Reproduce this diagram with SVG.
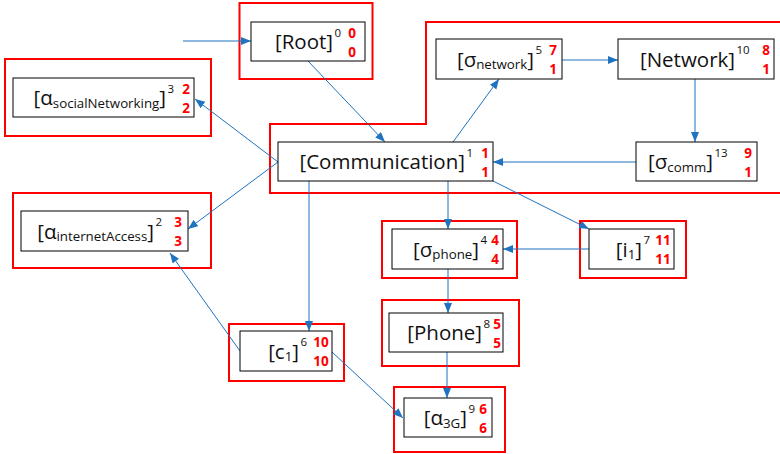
<svg xmlns="http://www.w3.org/2000/svg" width="780" height="454" viewBox="0 0 780 454">
<defs>
<marker id="ah" markerUnits="userSpaceOnUse" markerWidth="11" markerHeight="9" refX="10" refY="4" orient="auto"><path d="M0,0 L10,4 L0,8 z" fill="#1F73BF"/></marker>
<style>
.grp{fill:none;stroke:#FF0000;stroke-width:2}
.box{fill:#FFFFFF;stroke:#000000;stroke-width:1}
.lbl{font-family:"Open Sans","Noto Sans",sans-serif;font-size:20.5px;fill:#111111;text-anchor:end}
.sub{font-size:13.3px}
.sup{font-family:"Open Sans","Noto Sans",sans-serif;font-size:11.5px;fill:#111111}
.num{font-family:"Open Sans","Liberation Sans",sans-serif;font-size:13.5px;font-weight:bold;fill:#FF0000;text-anchor:middle}
.con{fill:none;stroke:#1F73BF;stroke-width:1;marker-end:url(#ah)}
</style>
</defs>
<rect width="780" height="454" fill="#FFFFFF"/>
<g id="groups">
<rect class="grp" x="239.5" y="3" width="133" height="76"/>
<rect class="grp" x="5" y="59" width="206" height="77"/>
<polygon class="grp" points="270,124 426,124 426,22 782,22 782,193 270,193"/>
<rect class="grp" x="13" y="193" width="198" height="75"/>
<rect class="grp" x="382" y="221" width="135" height="57"/>
<rect class="grp" x="580" y="221" width="106" height="57"/>
<rect class="grp" x="229" y="324" width="115" height="57"/>
<rect class="grp" x="382" y="300" width="137" height="66"/>
<rect class="grp" x="394" y="387" width="111" height="65"/>
</g>
<g id="connectors">
<line class="con" x1="183" y1="41" x2="251" y2="41"/>
<line class="con" x1="308" y1="61" x2="385" y2="142"/>
<line class="con" x1="453" y1="142" x2="499" y2="79"/>
<line class="con" x1="562" y1="60" x2="618" y2="60"/>
<line class="con" x1="695" y1="79" x2="695" y2="142"/>
<line class="con" x1="636" y1="162" x2="493" y2="162"/>
<line class="con" x1="278" y1="162" x2="195" y2="99"/>
<line class="con" x1="278" y1="162" x2="188" y2="229"/>
<line class="con" x1="309" y1="181" x2="309" y2="331"/>
<line class="con" x1="448" y1="181" x2="448" y2="229"/>
<line class="con" x1="493" y1="181" x2="589" y2="229"/>
<line class="con" x1="589" y1="249" x2="503" y2="249"/>
<line class="con" x1="448" y1="269" x2="448" y2="313"/>
<line class="con" x1="447" y1="352" x2="447" y2="398"/>
<line class="con" x1="240" y1="351" x2="170" y2="253"/>
<line class="con" x1="332" y1="352" x2="403" y2="418"/>
</g>
<g id="n0">
<rect class="box" x="251" y="22" width="114" height="39"/>
<text class="lbl" x="333" y="49">[Root]</text>
<text class="sup" x="334.5" y="36.5">0</text>
<text class="num" x="352" y="38">0</text>
<text class="num" x="352" y="56.5">0</text>
</g>
<g id="n1">
<rect class="box" x="278" y="142" width="215" height="39"/>
<text class="lbl" x="465" y="169">[Communication]</text>
<text class="sup" x="466.5" y="156.5">1</text>
<text class="num" x="485" y="158">1</text>
<text class="num" x="485" y="176.5">1</text>
</g>
<g id="n5">
<rect class="box" x="436" y="39" width="126" height="40"/>
<text class="lbl" x="534" y="66.5">[σ<tspan class="sub" dy="2.5">network</tspan><tspan dy="-2.5">]</tspan></text>
<text class="sup" x="535.5" y="54">5</text>
<text class="num" x="553" y="55">7</text>
<text class="num" x="553" y="74">1</text>
</g>
<g id="n10">
<rect class="box" x="618" y="39" width="156" height="40"/>
<text class="lbl" x="735" y="66.5">[Network]</text>
<text class="sup" x="736.5" y="54">10</text>
<text class="num" x="766" y="55">8</text>
<text class="num" x="766" y="74">1</text>
</g>
<g id="n13">
<rect class="box" x="636" y="142" width="121" height="39"/>
<text class="lbl" x="713" y="169">[σ<tspan class="sub" dy="2.5">comm</tspan><tspan dy="-2.5">]</tspan></text>
<text class="sup" x="714.5" y="156.5">13</text>
<text class="num" x="748" y="158">9</text>
<text class="num" x="748" y="176.5">1</text>
</g>
<g id="n3">
<rect class="box" x="13" y="78" width="181" height="39"/>
<text class="lbl" x="166" y="105">[α<tspan class="sub" dy="2.5">socialNetworking</tspan><tspan dy="-2.5">]</tspan></text>
<text class="sup" x="167.5" y="92.5">3</text>
<text class="num" x="186" y="94">2</text>
<text class="num" x="186" y="112.5">2</text>
</g>
<g id="n2">
<rect class="box" x="21" y="211" width="167" height="40"/>
<text class="lbl" x="154" y="238.5">[α<tspan class="sub" dy="2.5">internetAccess</tspan><tspan dy="-2.5">]</tspan></text>
<text class="sup" x="155.5" y="226">2</text>
<text class="num" x="178" y="227">3</text>
<text class="num" x="178" y="246">3</text>
</g>
<g id="n4">
<rect class="box" x="392" y="229" width="111" height="40"/>
<text class="lbl" x="479" y="256.5">[σ<tspan class="sub" dy="2.5">phone</tspan><tspan dy="-2.5">]</tspan></text>
<text class="sup" x="480.5" y="244">4</text>
<text class="num" x="495" y="245">4</text>
<text class="num" x="495" y="264">4</text>
</g>
<g id="n7">
<rect class="box" x="589" y="229" width="85" height="40"/>
<text class="lbl" x="642" y="256.5">[i<tspan class="sub" dy="2.5">1</tspan><tspan dy="-2.5">]</tspan></text>
<text class="sup" x="643.5" y="244">7</text>
<text class="num" x="663" y="245">11</text>
<text class="num" x="663" y="264">11</text>
</g>
<g id="n6">
<rect class="box" x="240" y="331" width="92" height="40"/>
<text class="lbl" x="299" y="358.5">[c<tspan class="sub" dy="2.5">1</tspan><tspan dy="-2.5">]</tspan></text>
<text class="sup" x="300.5" y="346">6</text>
<text class="num" x="321" y="347">10</text>
<text class="num" x="321" y="366">10</text>
</g>
<g id="n8">
<rect class="box" x="389" y="313" width="114" height="39"/>
<text class="lbl" x="482" y="340">[Phone]</text>
<text class="sup" x="483.5" y="327.5">8</text>
<text class="num" x="497" y="329">5</text>
<text class="num" x="497" y="347.5">5</text>
</g>
<g id="n9">
<rect class="box" x="404" y="398" width="88" height="39"/>
<text class="lbl" x="467" y="425">[α<tspan class="sub" dy="2.5">3G</tspan><tspan dy="-2.5">]</tspan></text>
<text class="sup" x="468.5" y="412.5">9</text>
<text class="num" x="483" y="414">6</text>
<text class="num" x="483" y="432.5">6</text>
</g>
</svg>
